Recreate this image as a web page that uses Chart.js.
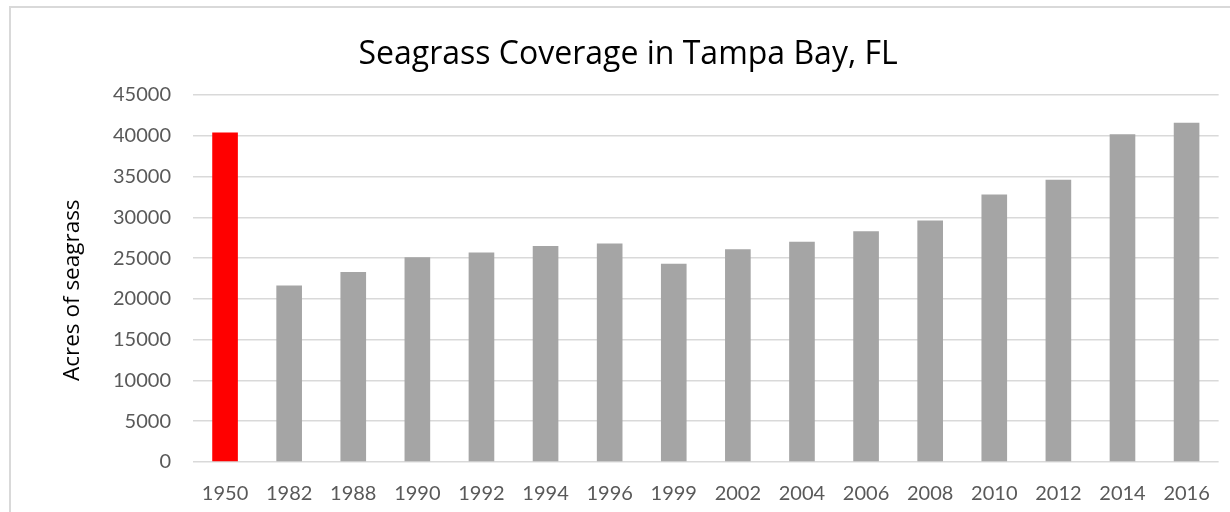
<!DOCTYPE html>
<html>
<head>
<meta charset="utf-8">
<script src="https://cdn.jsdelivr.net/npm/chart.js@4"></script>
<style>
  body { margin: 0; background: #fff; }
  #wrap { position: relative; width: 1230px; height: 512px; overflow: hidden; }
  #frame { position: absolute; left: 9px; top: 6px; width: 1260px; height: 540px; border: 2px solid #d9d9d9; }
  canvas { position: absolute; left: 0; top: 0; }
</style>
</head>
<body>
<div id="wrap">
  <div id="frame"></div>
  <canvas id="chart" width="1230" height="512"></canvas>
</div>
<script>
// survey years
var years = ['1950', '1982', '1988', '1990', '1992', '1994', '1996', '1999',
             '2002', '2004', '2006', '2008', '2010', '2012', '2014', '2016'];
// acres of seagrass
var acres = [40400, 21650, 23300, 25100, 25700, 26500, 26800, 24300,
             26100, 27000, 28300, 29600, 32800, 34600, 40200, 41600];

var barColors = years.map(function (y, i) {
    return i === 0 ? '#ff0000' : '#a5a5a5';
});

var font = 'Lato, "Open Sans", sans-serif';

var ctx = document.getElementById('chart').getContext('2d');
var myChart = new Chart(ctx, {
    type: 'bar',
    data: {
        labels: years,
        datasets: [{
            label: 'Acres of seagrass',
            data: acres,
            backgroundColor: barColors,
            borderWidth: 0,
            categoryPercentage: 1,
            barPercentage: 0.4
        }]
    },
    options: {
        responsive: false,
        animation: false,
        layout: { padding: { left: 0, right: 7, top: 0, bottom: 0 } },
        plugins: {
            legend: { display: false },
            tooltip: { enabled: false },
            title: {
                display: true,
                // leading spaces push the title a little right, as in the original
                text: '    Seagrass Coverage in Tampa Bay, FL',
                color: '#000',
                font: { family: '"Open Sans", sans-serif', size: 32, weight: 'normal' },
                padding: { top: 36, bottom: 20.6 }
            }
        },
        scales: {
            x: {
                grid: { display: false, drawTicks: false },
                border: { display: false },
                ticks: {
                    color: '#595959',
                    font: { family: font, size: 20 },
                    padding: 20,
                    maxRotation: 0,
                    autoSkip: false
                },
                afterFit: function (scale) { scale.height = 50; }
            },
            y: {
                min: 0,
                max: 45000,
                ticks: {
                    stepSize: 5000,
                    color: '#595959',
                    font: { family: font, size: 20 },
                    padding: 22,
                    callback: function (value) { return String(value); }
                },
                grid: { color: '#d9d9d9', lineWidth: 1.5, drawTicks: false },
                border: { display: false },
                title: {
                    display: true,
                    // trailing spaces nudge the label down a bit, like the original
                    text: 'Acres of seagrass    ',
                    color: '#000',
                    font: { family: '"Open Sans", sans-serif', size: 22.5 },
                    padding: { top: 59, bottom: 0 }
                },
                afterFit: function (scale) { scale.width = 193; }
            }
        }
    }
});
</script>
</body>
</html>
